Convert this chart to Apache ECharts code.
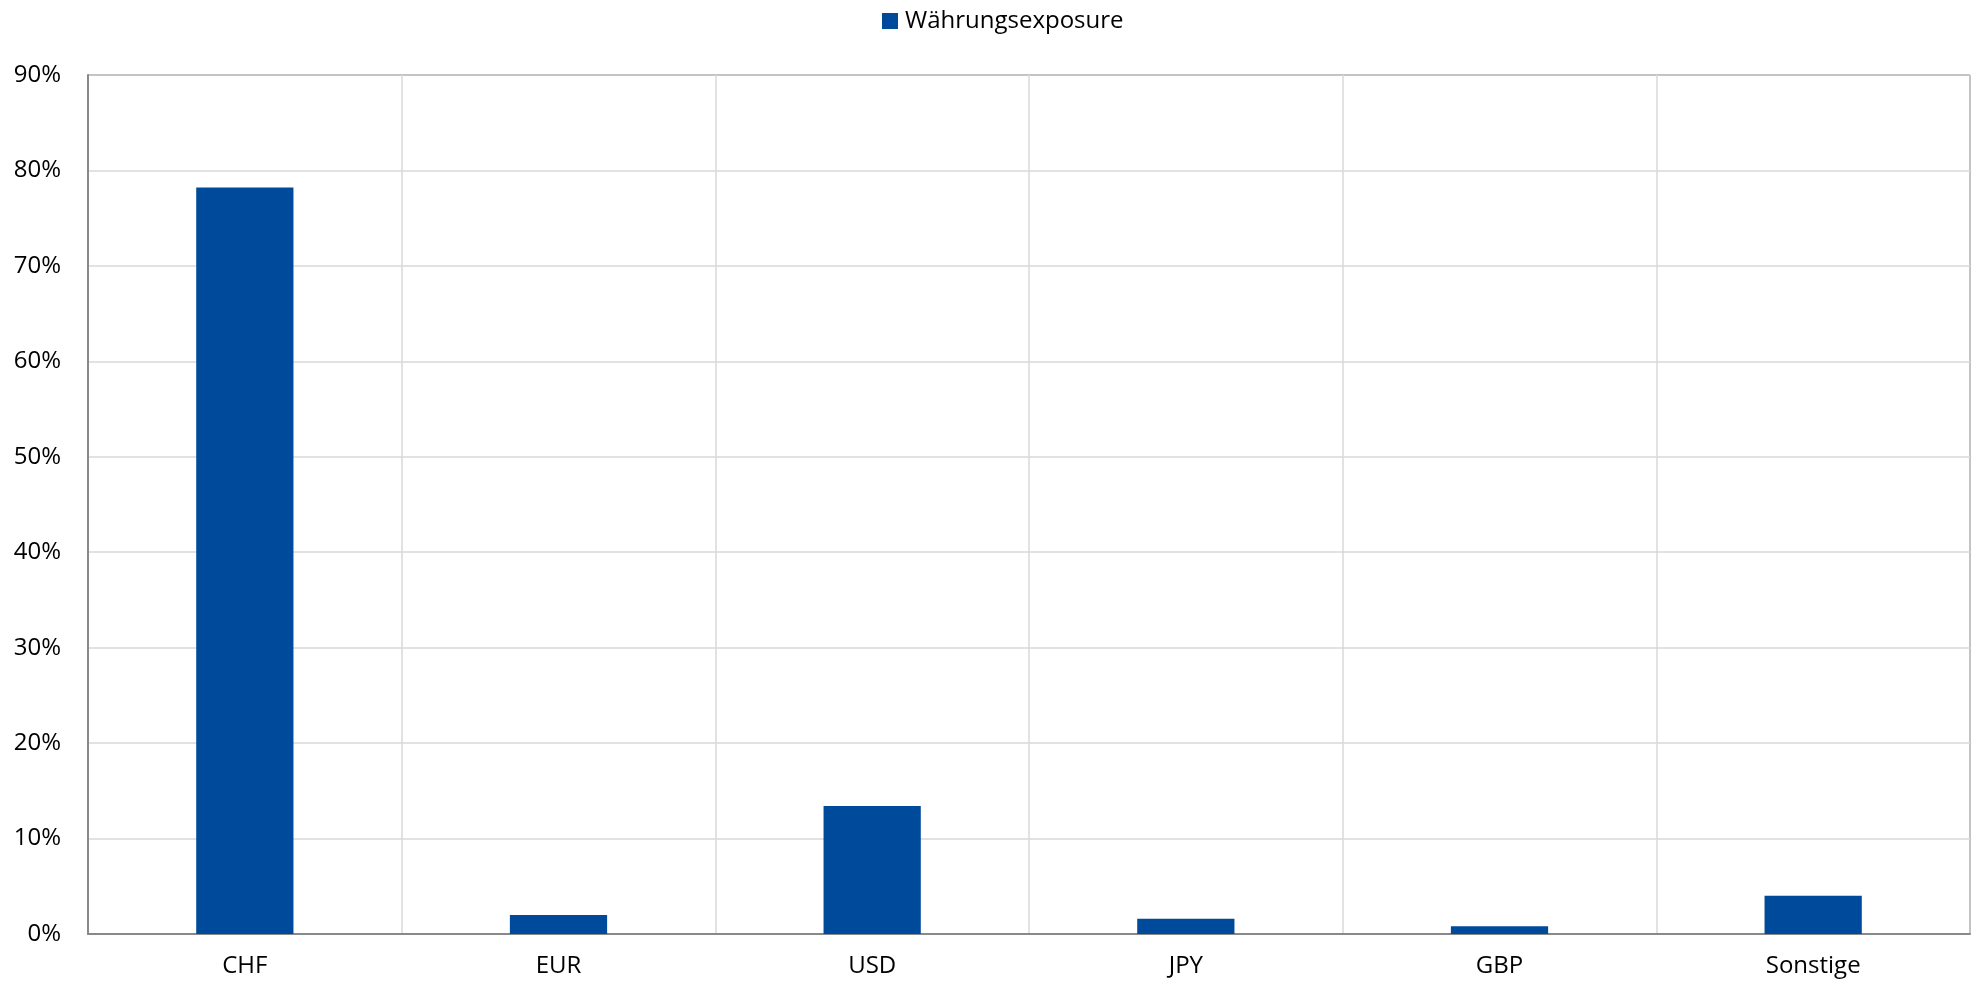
<!DOCTYPE html>
<html>
<head>
<meta charset="utf-8">
<script src="https://cdn.jsdelivr.net/npm/echarts@6/dist/echarts.min.js"></script>
<style>html,body{margin:0;padding:0;background:#fff;}#chart{width:1977px;height:985px;}</style>
</head>
<body>
<div id="chart"></div>
<script>
const categories = ['CHF', 'EUR', 'USD', 'JPY', 'GBP', 'Sonstige'];
const seriesName = 'Währungsexposure';
const values = [78.2, 2.0, 13.4, 1.6, 0.8, 4.0];
const yTicks = { min: 0, max: 90, interval: 10 };

const chart = echarts.init(document.getElementById('chart'));
const font = '"Open Sans", "Noto Sans", sans-serif';
chart.setOption({
  animation: false,
  backgroundColor: '#ffffff',
  legend: {
    top: 4,
    left: 877,
    itemWidth: 16,
    itemHeight: 16,
    itemGap: 8,
    icon: 'rect',
    textStyle: { fontFamily: font, fontSize: 24, color: '#000', padding: [0, 0, 0, 2] },
    data: [seriesName]
  },
  grid: { left: 88, right: 7, top: 75, bottom: 51, containLabel: false },
  xAxis: {
    type: 'category',
    data: categories,
    axisLine: { show: true, lineStyle: { color: '#898989', width: 2 } },
    axisTick: { show: false },
    axisLabel: { fontFamily: font, fontSize: 24, color: '#000', margin: 20 },
    splitLine: { show: true, lineStyle: { color: '#d9d9d9', width: 1.5 } }
  },
  yAxis: {
    type: 'value',
    min: yTicks.min, max: yTicks.max, interval: yTicks.interval,
    axisLine: { show: true, lineStyle: { color: '#898989', width: 2 } },
    axisTick: { show: false },
    axisLabel: { fontFamily: font, fontSize: 24, color: '#000', margin: 27, formatter: v => v + '%' },
    splitLine: { show: true, lineStyle: { color: '#d9d9d9', width: 1.5 } }
  },
  series: [{
    name: seriesName,
    type: 'bar',
    data: values,
    barWidth: '31%',
    itemStyle: { color: '#004a9b' }
  }],
  graphic: [{
    type: 'line',
    shape: { x1: 88, y1: 75, x2: 1970, y2: 75 },
    style: { stroke: '#898989', lineWidth: 2 }
  }, {
    type: 'line',
    shape: { x1: 1970, y1: 75, x2: 1970, y2: 934 },
    style: { stroke: '#898989', lineWidth: 2 }
  }]
});
</script>
</body>
</html>
